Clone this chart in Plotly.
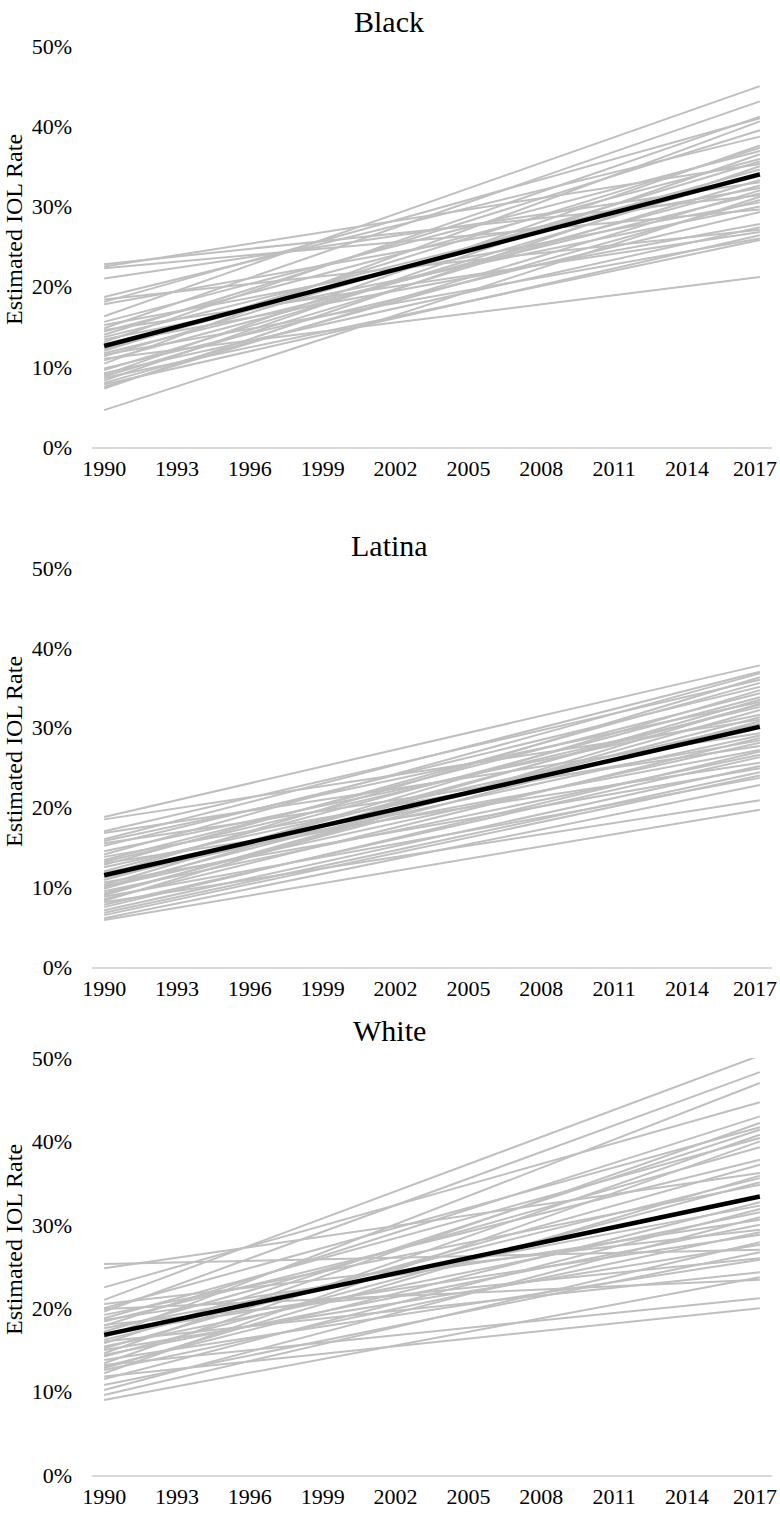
import plotly.graph_objects as go

# ---------------- data ----------------
years_span = [1990, 2017]
x_tick_years = [1990, 1993, 1996, 1999, 2002, 2005, 2008, 2011, 2014, 2017]
y_tick_vals = [0, 10, 20, 30, 40, 50]
y_tick_text = ["0%", "10%", "20%", "30%", "40%", "50%"]
panel_titles = ["Black", "Latina", "White"]

# Black: state-level estimated IOL rate (%), 1990 start and 2017 end
black_1990 = [22.8, 22.5, 22.3, 21.0, 18.7, 18.4, 18.1, 17.8, 16.3, 15.6, 15.2, 14.8, 14.6,
              14.4, 14.0, 13.7, 13.4, 13.1, 12.8, 12.2, 12.0, 11.7, 11.5, 11.3, 11.0, 10.8,
              10.4, 9.8, 9.6, 9.2, 9.0, 8.8, 8.6, 8.3, 8.0, 7.8, 7.5, 7.3, 4.6]
black_2017 = [31.4, 35.3, 29.6, 33.0, 38.7, 27.1, 41.0, 32.3, 45.0, 36.9, 30.5, 43.1, 26.8,
              35.9, 39.5, 33.8, 30.0, 41.2, 27.8, 34.6, 37.3, 31.6, 26.0, 35.6, 21.2, 32.6,
              40.6, 29.3, 34.2, 27.4, 37.6, 33.3, 25.8, 36.5, 30.8, 26.4, 32.0, 35.0, 31.2]
black_mean = [12.6, 34.0]

# Latina
latina_1990 = [18.8, 18.5, 17.0, 16.8, 16.0, 15.8, 15.5, 15.2, 14.5, 14.1, 13.8, 13.4, 13.2,
               13.0, 12.8, 12.5, 12.0, 11.8, 11.5, 11.2, 10.9, 10.6, 10.3, 10.1, 10.0, 9.8,
               9.5, 9.2, 9.0, 8.8, 8.5, 8.3, 8.1, 7.8, 7.5, 7.1, 6.8, 6.5, 6.1, 5.9]
latina_2017 = [37.8, 31.0, 36.0, 29.3, 37.0, 33.2, 27.7, 35.1, 31.6, 36.8, 28.4, 34.3, 32.6,
               25.6, 35.6, 30.5, 33.8, 27.2, 36.3, 29.0, 32.9, 24.9, 34.7, 31.3, 28.1, 33.5,
               26.6, 30.8, 32.2, 23.7, 28.7, 33.0, 20.9, 26.3, 27.0, 25.2, 24.4, 24.0, 22.8, 19.7]
latina_mean = [11.5, 30.1]

# White
white_1990 = [25.3, 24.8, 22.5, 21.0, 20.5, 20.0, 19.9, 19.6, 19.2, 18.8, 18.6, 18.4, 18.0,
              17.9, 17.6, 17.2, 17.0, 16.5, 16.2, 16.0, 15.8, 15.4, 15.2, 15.0, 14.6, 14.4,
              14.2, 13.8, 13.4, 13.2, 13.0, 12.8, 12.6, 12.2, 11.8, 11.5, 10.8, 10.2, 9.6, 9.0]
white_2017 = [27.0, 36.2, 44.7, 50.3, 29.4, 41.7, 23.4, 48.3, 34.8, 40.4, 30.6, 37.8, 26.0,
              43.0, 32.3, 39.3, 28.8, 47.0, 35.6, 24.3, 41.4, 31.5, 37.2, 27.6, 42.2, 30.0,
              35.1, 25.8, 40.8, 21.2, 32.7, 35.9, 29.1, 40.0, 20.0, 31.9, 26.7, 30.9, 27.9, 23.7]
white_mean = [16.8, 33.4]

# ---------------- layout geometry (pixels) ----------------
W, H = 780, 1518
L, R = 92, 8
panels_px = [(46, 447), (568, 967), (1058, 1475)]   # (top, bottom) of each plot area
title_px = [22, 545, 1030]
ytitle_px = [230, 752, 1240]

FONT = "Liberation Serif, Times New Roman, serif"
GRAY = "#BFBFBF"

fig = go.Figure()
series = [(black_1990, black_2017, black_mean),
          (latina_1990, latina_2017, latina_mean),
          (white_1990, white_2017, white_mean)]

for i, (starts, ends, mean) in enumerate(series):
    xa = "x" if i == 0 else f"x{i+1}"
    ya = "y" if i == 0 else f"y{i+1}"
    for s, e in zip(starts, ends):
        fig.add_trace(go.Scatter(x=years_span, y=[s, e], mode="lines",
                                 line=dict(color=GRAY, width=2),
                                 xaxis=xa, yaxis=ya, showlegend=False, hoverinfo="skip"))
    fig.add_trace(go.Scatter(x=years_span, y=mean, mode="lines",
                             line=dict(color="black", width=4.5),
                             xaxis=xa, yaxis=ya, showlegend=False))

layout = dict(width=W, height=H, margin=dict(l=L, r=R, t=0, b=0),
              paper_bgcolor="white", plot_bgcolor="white",
              font=dict(family=FONT, color="black", size=22))
annotations = []
# the last year label is placed flush with the right edge so it is not clipped
x_tick_text = [str(v) for v in x_tick_years[:-1]] + [""]
for i, (top, bot) in enumerate(panels_px):
    xk = "xaxis" if i == 0 else f"xaxis{i+1}"
    yk = "yaxis" if i == 0 else f"yaxis{i+1}"
    xa = "x" if i == 0 else f"x{i+1}"
    ya = "y" if i == 0 else f"y{i+1}"
    layout[xk] = dict(domain=[0, 1], anchor=ya, range=[1989.5, 2017.5],
                      tickvals=x_tick_years, ticktext=x_tick_text,
                      showgrid=False, zeroline=False, showline=True,
                      linecolor="#D9D9D9", linewidth=1.5, ticks="",
                      ticklabelstandoff=1, automargin=False,
                      tickfont=dict(family=FONT, size=22, color="black"))
    layout[yk] = dict(domain=[1 - bot / H, 1 - top / H], anchor=xa, range=[0, 50],
                      tickvals=y_tick_vals, ticktext=y_tick_text,
                      showgrid=False, zeroline=False, showline=False, ticks="",
                      ticklabelstandoff=19, automargin=False,
                      tickfont=dict(family=FONT, size=22, color="black"))
    annotations.append(dict(text=str(x_tick_years[-1]), xref="paper", yref="paper",
                            x=(W - 1 - L) / (W - L - R), y=1 - (bot + 21) / H,
                            xanchor="right", yanchor="middle", showarrow=False,
                            font=dict(family=FONT, size=22, color="black")))
    annotations.append(dict(text=panel_titles[i], xref="paper", yref="paper",
                            x=(389 - L) / (W - L - R), y=1 - title_px[i] / H,
                            xanchor="center", yanchor="middle", showarrow=False,
                            font=dict(family=FONT, size=30, color="black")))
    annotations.append(dict(text="Estimated IOL Rate", xref="paper", yref="paper",
                            x=(14 - L) / (W - L - R), y=1 - ytitle_px[i] / H,
                            xanchor="center", yanchor="middle", textangle=-90,
                            showarrow=False,
                            font=dict(family=FONT, size=24, color="black")))
layout["annotations"] = annotations
fig.update_layout(**layout)

fig.write_html("out.html", config={"displayModeBar": False},
               post_script="document.body.style.margin='0px';document.body.style.overflow='hidden';")
